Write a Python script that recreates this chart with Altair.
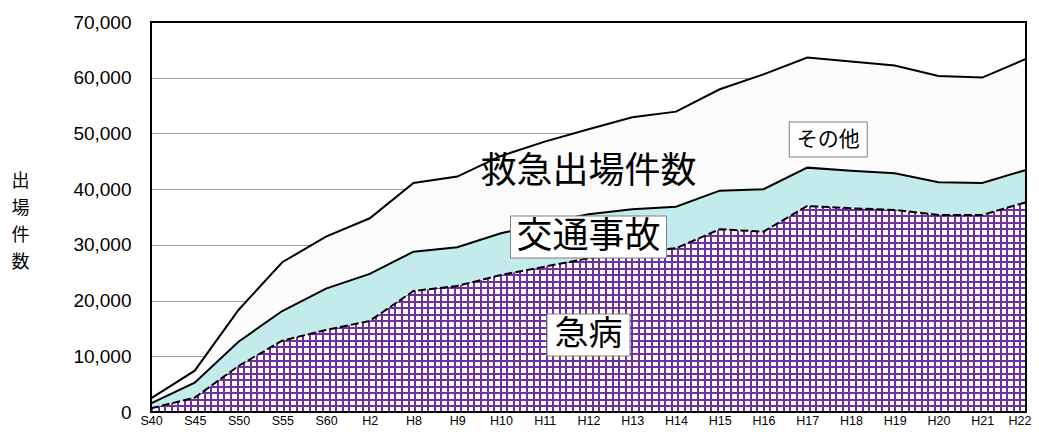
import altair as alt
import pandas as pd

years = ["S40", "S45", "S50", "S55", "S60", "H2", "H8", "H9", "H10", "H11", "H12",
         "H13", "H14", "H15", "H16", "H17", "H18", "H19", "H20", "H21", "H22"]
sick = [660, 2570, 8260, 12800, 14720, 16340, 21720, 22620, 24600, 26090, 27590,
        28670, 29390, 32800, 32370, 36980, 36570, 36270, 35370, 35370, 37650]
traffic = [900, 2690, 4360, 5330, 7420, 8440, 7060, 6950, 7480, 7780, 7900,
           7720, 7470, 6930, 7610, 6880, 6750, 6580, 5870, 5740, 5800]
other = [900, 2160, 5690, 8750, 9330, 9990, 12330, 12680, 13880, 14660, 15260,
         16510, 17050, 18200, 20620, 19750, 19570, 19330, 19080, 18910, 19930]
series = ["急病", "交通事故", "その他"]
y_ticks = [0, 10000, 20000, 30000, 40000, 50000, 60000, 70000]

rows = []
for i, y in enumerate(years):
    for k, (name, vals) in enumerate(zip(series, [sick, traffic, other])):
        rows.append({"year": y, "series": name, "order": k, "value": vals[i]})
df = pd.DataFrame(rows)

W, H = 875, 390
YMAX = 70000
PURPLE = "#7030A0"
JP = "Noto Sans CJK JP"
LAT = "Liberation Sans"


def stripes(total_px, period, lw, c_line, c_gap):
    n = max(1, int(round(total_px / period)))
    st = []
    for k in range(n):
        a = k / n
        b = (k + lw / period) / n
        c = (k + 1) / n
        st += [alt.GradientStop(offset=a, color=c_line),
               alt.GradientStop(offset=b, color=c_line),
               alt.GradientStop(offset=b, color=c_gap),
               alt.GradientStop(offset=c, color=c_gap)]
    return st


vert = alt.Gradient(gradient="linear", x1=0, x2=1, y1=0, y2=0,
                    stops=stripes(W, 6.6, 2, PURPLE, "#ffffff"))
sick_h = max(sick) / YMAX * H
horiz = alt.Gradient(gradient="linear", x1=0, x2=0, y1=0, y2=1,
                     stops=stripes(sick_h, 6.6, 2, PURPLE, "rgba(255,255,255,0)"))

xs = alt.Scale(type="point", domain=years, padding=0)
ys = alt.Scale(domain=[0, YMAX], nice=False, zero=True)

last = years[-1]
X = alt.X("year:N", scale=xs,
          axis=alt.Axis(title=None, labelAngle=0, ticks=False, domain=False,
                        labelFont=LAT, labelFontSize=12.5, labelColor="black",
                        labelPadding=2, grid=False,
                        labelAlign=alt.condition(f"datum.value == '{last}'",
                                                 alt.value("right"), alt.value("center")),
                        labelOffset=alt.condition(f"datum.value == '{last}'",
                                                  alt.value(5), alt.value(0))))
Y_axis = alt.Axis(values=y_ticks, format=",d", ticks=False, domain=False,
                  labelFont=LAT, labelFontSize=19, labelColor="black",
                  labelPadding=20, gridColor="#a0a0a0", gridWidth=1,
                  title=["出", "場", "件", "数"], titleAngle=0, titleFont=JP,
                  titleFontSize=18, titleFontWeight="normal", titleColor="black",
                  titleLineHeight=27, titleAlign="center", titleBaseline="top",
                  titleX=-131, titleY=150)

base = alt.Chart(df).transform_stack(
    stack="value", groupby=["year"], as_=["y0", "y1"],
    sort=[alt.SortField(field="order", order="ascending")])


def part(name):
    return base.transform_filter(alt.datum.series == name)


area_other = part("その他").mark_area(fill="#fbfbfb", opacity=1).encode(
    x=X, y=alt.Y("y1:Q", scale=ys, axis=Y_axis), y2="y0:Q")
area_traffic = part("交通事故").mark_area(fill="#c4ebeb", opacity=1).encode(
    x=X, y=alt.Y("y1:Q", scale=ys), y2="y0:Q")
area_sick_v = part("急病").mark_area(fill=vert, opacity=1).encode(
    x=X, y=alt.Y("y1:Q", scale=ys), y2="y0:Q")
area_sick_h = part("急病").mark_area(fill=horiz, opacity=1).encode(
    x=X, y=alt.Y("y1:Q", scale=ys), y2="y0:Q")

line_other = part("その他").mark_line(color="black", strokeWidth=2).encode(
    x=X, y=alt.Y("y1:Q", scale=ys))
line_traffic = part("交通事故").mark_line(color="black", strokeWidth=2).encode(
    x=X, y=alt.Y("y1:Q", scale=ys))
line_sick = part("急病").mark_line(color="black", strokeWidth=2,
                                 strokeDash=[8, 3]).encode(
    x=X, y=alt.Y("y1:Q", scale=ys))

# annotation labels (anchor category, value, pixel nudge, font size, box w/h)
ann_text = ["救急出場件数", "交通事故", "急病", "その他"]
ann_year = ["H12", "H12", "H12", "H17"]
ann_value = [43080, 31410, 13820, 48910]
ann_dx = [0, 0, 0, 21]
ann_size = [36, 36, 34, 21]
ann_box = [None, (156, 42), (83, 42), (78, 35)]

layers = [area_other, area_traffic, area_sick_v, area_sick_h,
          line_other, line_traffic, line_sick]

for t, yr, v, dx, fs, box in zip(ann_text, ann_year, ann_value, ann_dx, ann_size, ann_box):
    d = pd.DataFrame({"year": [yr], "v": [v], "t": [t]})
    enc = dict(x=X, y=alt.Y("v:Q", scale=ys))
    if box is not None:
        bw, bh = box
        r = bh / bw
        shape = f"M-1,-{r:.4f}H1V{r:.4f}H-1Z"
        layers.append(alt.Chart(d).mark_point(
            shape=shape, size=bw * bw, filled=True, fill="white",
            stroke="#7f7f7f", strokeWidth=1, opacity=1, xOffset=dx).encode(**enc))
    layers.append(alt.Chart(d).mark_text(
        font=JP, fontSize=fs, color="black", align="center", baseline="middle",
        dx=dx).encode(text="t:N", **enc))

# plot frame drawn on top of the areas
frame = alt.Chart(pd.DataFrame({"f": [0]})).mark_rect(
    filled=False, stroke="black", strokeWidth=2).encode(
    x=alt.value(0), x2=alt.value(W), y=alt.value(0), y2=alt.value(H))
layers.append(frame)

chart = alt.layer(*layers).properties(
    width=W, height=H,
    background="white",
    autosize=alt.AutoSizeParams(type="none"),
    padding={"left": 143, "top": 14, "right": 5, "bottom": 16},
).configure_view(strokeWidth=0)

chart.save("out.html", embed_options={"renderer": "svg", "actions": False})
